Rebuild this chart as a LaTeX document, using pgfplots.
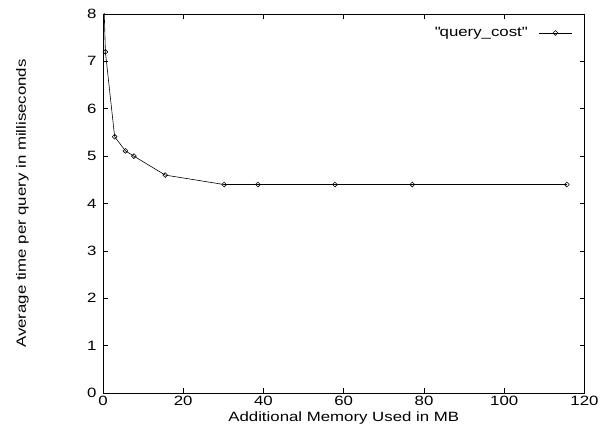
\documentclass[border=0pt]{standalone}
\usepackage{pgfplots}
\pgfplotsset{compat=1.18}
\usepackage{fontspec}
\setmainfont{Liberation Sans}[FakeStretch=1.25]
\begin{document}
\begin{tikzpicture}
\useasboundingbox (-103bp,-47bp) rectangle (504bp,393bp);
\begin{axis}[
  at={(0,0)}, anchor=south west,
  scale only axis,
  width=481.5bp, height=379bp,
  xmin=0, xmax=120, ymin=0, ymax=8,
  xtick={0,20,...,120}, ytick={0,1,...,8},
  tick align=inside,
  major tick length=5bp,
  tick style={black, line width=0.6pt},
  axis line style={black, line width=0.8pt},
  /pgf/number format/assume math mode=true,
  tick label style={font=\fontsize{13.5}{15}\selectfont},
  xticklabel style={yshift=0bp},
  yticklabel style={xshift=-3bp},
  label style={font=\fontsize{13.5}{15}\selectfont},
  xlabel={Additional Memory Used in MB},
  ylabel={Average time per query in milliseconds},
  xlabel style={at={(axis description cs:0.5,0)}, anchor=base, yshift=-28bp},
  ylabel style={at={(axis description cs:0,0.5)}, anchor=base, yshift=77bp},
  clip=true,
  legend style={draw=none, fill=none, at={(axis description cs:0.975,0.95)}, anchor=east,
    inner sep=0pt, nodes={inner sep=0pt}, column sep=12bp,
    font=\fontsize{13.5}{15}\selectfont},
  legend cell align=right,
  legend plot pos=right,
  legend image code/.code={\draw[mark repeat=2, mark phase=2, #1] plot coordinates {(0bp,0bp) (16.5bp,0bp) (33bp,0bp)};},
]
\addplot[black, line width=0.6pt, mark=square, mark size=1.7bp, mark options={solid, rotate=45, line width=0.6pt}]
coordinates {
(0,8.9) (0.6,7.2) (2.9,5.41) (5.6,5.11) (7.7,5.0) (15.5,4.6) (30.2,4.4) (38.6,4.4) (57.8,4.4) (77.1,4.4) (115.6,4.4)
};
\addlegendentry{\textquotedbl query\_cost\textquotedbl}
\end{axis}
\end{tikzpicture}
\end{document}
